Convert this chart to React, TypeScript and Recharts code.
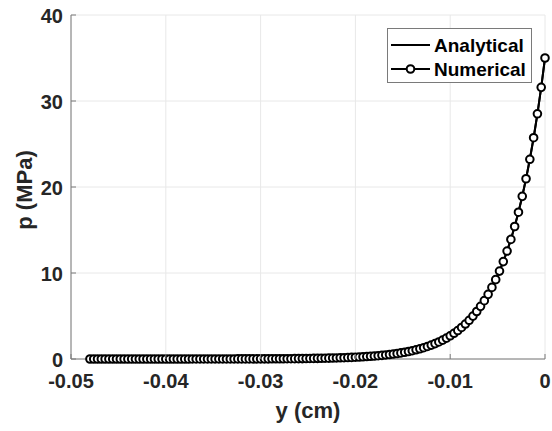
import React from "react";
import {
  LineChart,
  Line,
  XAxis,
  YAxis,
  CartesianGrid,
} from "recharts";

// y position (cm)
const yCm = [
  -0.048, -0.0476, -0.0472, -0.0468, -0.0464, -0.046, -0.0456, -0.0452, -0.0448, -0.0444,
  -0.044, -0.0436, -0.0432, -0.0428, -0.0424, -0.042, -0.0416, -0.0412, -0.0408, -0.0404,
  -0.04, -0.0396, -0.0392, -0.0388, -0.0384, -0.038, -0.0376, -0.0372, -0.0368, -0.0364,
  -0.036, -0.0356, -0.0352, -0.0348, -0.0344, -0.034, -0.0336, -0.0332, -0.0328, -0.0324,
  -0.032, -0.0316, -0.0312, -0.0308, -0.0304, -0.03, -0.0296, -0.0292, -0.0288, -0.0284,
  -0.028, -0.0276, -0.0272, -0.0268, -0.0264, -0.026, -0.0256, -0.0252, -0.0248, -0.0244,
  -0.024, -0.0236, -0.0232, -0.0228, -0.0224, -0.022, -0.0216, -0.0212, -0.0208, -0.0204,
  -0.02, -0.0196, -0.0192, -0.0188, -0.0184, -0.018, -0.0176, -0.0172, -0.0168, -0.0164,
  -0.016, -0.0156, -0.0152, -0.0148, -0.0144, -0.014, -0.0136, -0.0132, -0.0128, -0.0124,
  -0.012, -0.0116, -0.0112, -0.0108, -0.0104, -0.01, -0.0096, -0.0092, -0.0088, -0.0084,
  -0.008, -0.0076, -0.0072, -0.0068, -0.0064, -0.006, -0.0056, -0.0052, -0.0048, -0.0044,
  -0.004, -0.0036, -0.0032, -0.0028, -0.0024, -0.002, -0.0016, -0.0012, -0.0008, -0.0004,
  0,
];

// pressure (MPa), analytical and numerical overlap
const pAnalytical = [
  0, 0, 0, 0, 0, 0, 0, 0, 0, 0,
  0.001, 0.001, 0.001, 0.001, 0.001, 0.001, 0.001, 0.001, 0.001, 0.001,
  0.001, 0.001, 0.002, 0.002, 0.002, 0.002, 0.002, 0.003, 0.003, 0.003,
  0.003, 0.004, 0.004, 0.005, 0.005, 0.006, 0.006, 0.007, 0.008, 0.009,
  0.01, 0.011, 0.012, 0.013, 0.014, 0.016, 0.018, 0.02, 0.022, 0.024,
  0.027, 0.03, 0.033, 0.036, 0.04, 0.045, 0.049, 0.055, 0.061, 0.067,
  0.074, 0.082, 0.091, 0.101, 0.112, 0.124, 0.138, 0.152, 0.169, 0.187,
  0.207, 0.23, 0.255, 0.282, 0.313, 0.346, 0.384, 0.425, 0.471, 0.522,
  0.579, 0.641, 0.71, 0.787, 0.872, 0.966, 1.071, 1.186, 1.315, 1.457,
  1.614, 1.788, 1.981, 2.195, 2.432, 2.695, 2.986, 3.309, 3.666, 4.062,
  4.5, 4.986, 5.525, 6.122, 6.783, 7.515, 8.327, 9.226, 10.223, 11.327,
  12.55, 13.905, 15.407, 17.071, 18.915, 20.958, 23.222, 25.73, 28.509, 31.588,
  35.0,
];
const pNumerical = pAnalytical;

const xTicks = [-0.05, -0.04, -0.03, -0.02, -0.01, 0];
const yTicks = [0, 10, 20, 30, 40];

const data = yCm.map((y, i) => ({
  y,
  analytical: pAnalytical[i],
  numerical: pNumerical[i],
}));

const FONT = "'Liberation Sans', Arial, Helvetica, sans-serif";
const TXT = "#262626";
const AXIS = "#7a7a7a";

const BottomTick = (props: any) => {
  const { x, y, payload } = props;
  return (
    <g>
      <line x1={x} x2={x} y1={y} y2={y - 5} stroke={AXIS} />
      <text x={x} y={y + 29} textAnchor="middle" fontFamily={FONT} fontWeight="bold" fontSize={20} fill={TXT}>
        {String(payload.value)}
      </text>
    </g>
  );
};

const LeftTick = (props: any) => {
  const { x, y, payload } = props;
  return (
    <g>
      <line x1={x} x2={x + 5} y1={y} y2={y} stroke={AXIS} />
      <text x={x - 8} y={y + 8} textAnchor="end" fontFamily={FONT} fontWeight="bold" fontSize={20} fill={TXT}>
        {String(payload.value)}
      </text>
    </g>
  );
};

const TopTick = (props: any) => {
  const { x, y } = props;
  return <line x1={x} x2={x} y1={y} y2={y + 5} stroke={AXIS} />;
};

const RightTick = (props: any) => {
  const { x, y } = props;
  return <line x1={x} x2={x - 5} y1={y} y2={y} stroke={AXIS} />;
};

const LegendBox = () => (
  <div
    style={{
      position: "absolute",
      left: 387,
      top: 28,
      width: 145,
      height: 55,
      boxSizing: "border-box",
      border: `1px solid ${AXIS}`,
      background: "#fff",
    }}
  >
    <svg width={143} height={53} style={{ display: "block" }}>
      <line x1={3} x2={42} y1={16} y2={16} stroke="#000" strokeWidth={2} />
      <text x={46} y={23} fontFamily={FONT} fontWeight="bold" fontSize={19} fill="#000">
        Analytical
      </text>
      <line x1={3} x2={42} y1={40} y2={40} stroke="#000" strokeWidth={2} />
      <circle cx={22.5} cy={40} r={3.8} stroke="#000" strokeWidth={2} fill="#fff" />
      <text x={46} y={47} fontFamily={FONT} fontWeight="bold" fontSize={19} fill="#000">
        Numerical
      </text>
    </svg>
  </div>
);

export default function App() {
  return (
    <div style={{ position: "absolute", left: 0, top: 0, width: 552, height: 431, background: "#fff" }}>
      <LineChart
        width={552}
        height={431}
        data={data}
        margin={{ top: 15, right: 7, left: 0, bottom: 0 }}
      >
        <CartesianGrid
          stroke="#e8e8e8"
          strokeWidth={1}
          xAxisId="bottom"
          yAxisId="left"
        />
        <XAxis
          xAxisId="bottom"
          dataKey="y"
          type="number"
          domain={[-0.05, 0]}
          ticks={xTicks}
          height={72}
          tickSize={0}
          tickMargin={0}
          tick={<BottomTick />}
          axisLine={{ stroke: AXIS }}
          label={{
            content: () => (
              <text x={308} y={418} textAnchor="middle" fontFamily={FONT} fontWeight="bold" fontSize={22} fill={TXT}>
                y (cm)
              </text>
            ),
          }}
        />
        <XAxis
          xAxisId="top"
          orientation="top"
          dataKey="y"
          type="number"
          domain={[-0.05, 0]}
          ticks={xTicks}
          height={0}
          tickSize={0}
          tickMargin={0}
          tick={<TopTick />}
          axisLine={{ stroke: AXIS }}
        />
        <YAxis
          yAxisId="left"
          type="number"
          domain={[0, 40]}
          ticks={yTicks}
          width={71}
          tickSize={0}
          tickMargin={0}
          tick={<LeftTick />}
          axisLine={{ stroke: AXIS }}
          label={{
            content: () => (
              <text
                x={0}
                y={0}
                transform="translate(32 190) rotate(-90)"
                textAnchor="middle"
                fontFamily={FONT}
                fontWeight="bold"
                fontSize={22}
                fill={TXT}
              >
                p (MPa)
              </text>
            ),
          }}
        />
        <YAxis
          yAxisId="right"
          orientation="right"
          type="number"
          domain={[0, 40]}
          ticks={yTicks}
          width={0}
          tickSize={0}
          tickMargin={0}
          tick={<RightTick />}
          axisLine={{ stroke: AXIS }}
        />
        <Line
          xAxisId="bottom"
          yAxisId="left"
          dataKey="analytical"
          stroke="#000"
          strokeWidth={2}
          dot={false}
          isAnimationActive={false}
        />
        <Line
          xAxisId="top"
          yAxisId="right"
          dataKey="numerical"
          stroke="#000"
          strokeWidth={2}
          dot={{ r: 3.8, stroke: "#000", strokeWidth: 2, fill: "#fff" }}
          isAnimationActive={false}
        />
      </LineChart>
      <LegendBox />
    </div>
  );
}
